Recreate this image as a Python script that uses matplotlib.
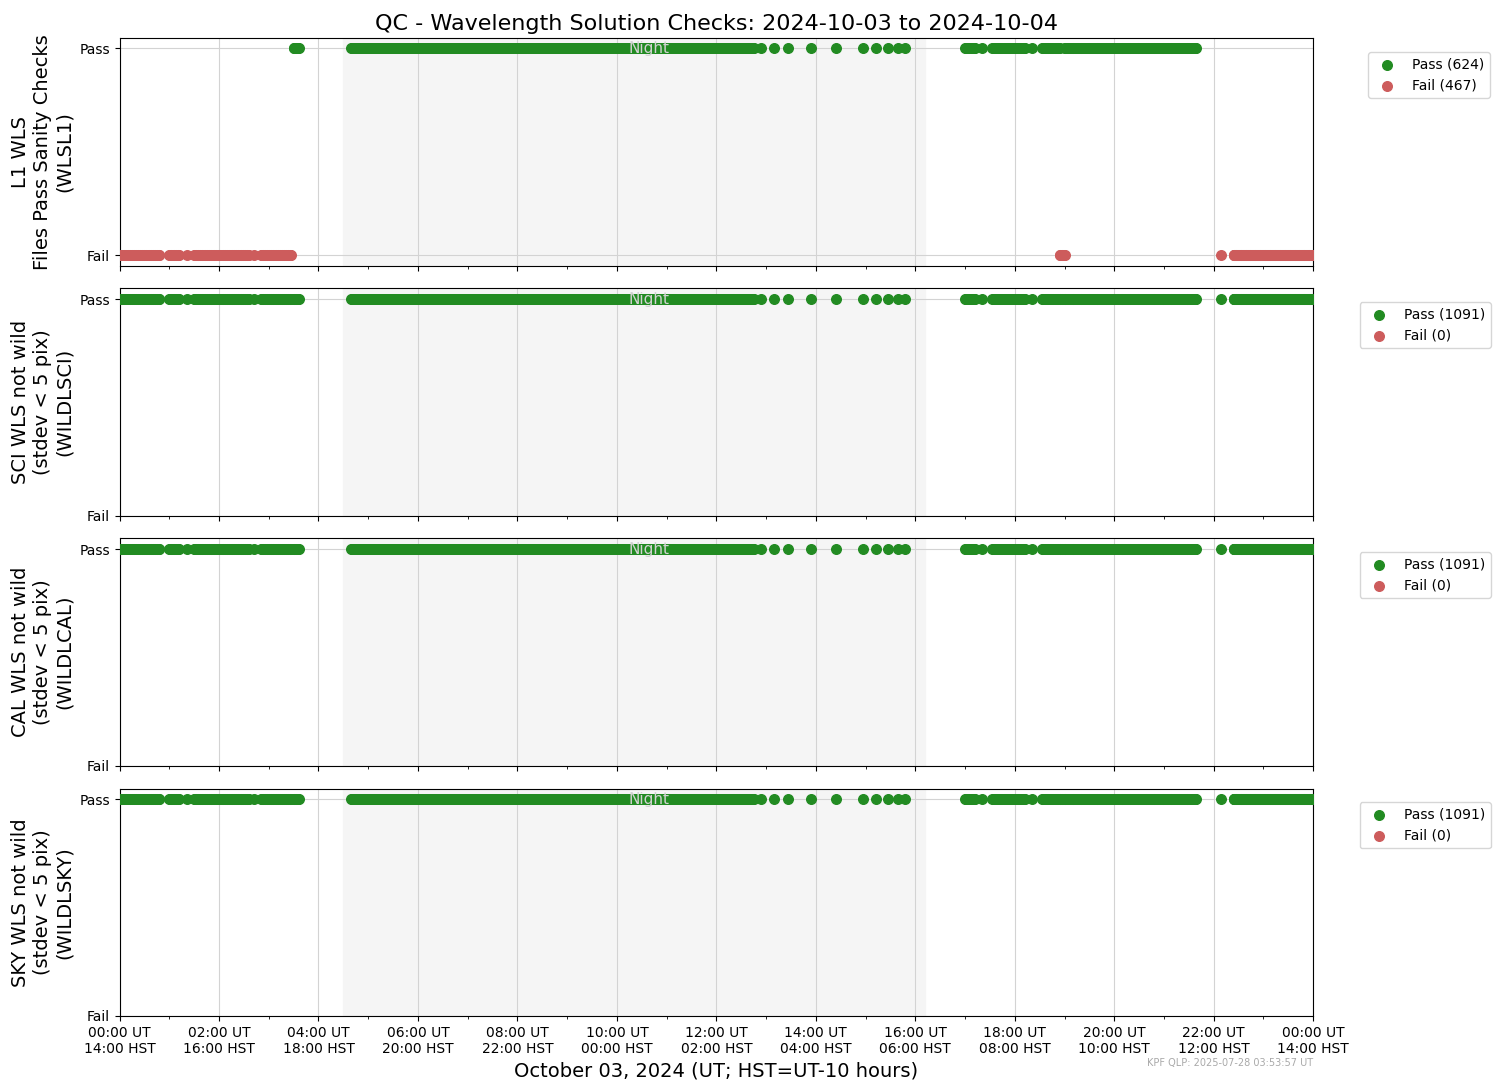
import matplotlib
matplotlib.use("Agg")
import matplotlib.pyplot as plt
import numpy as np

fail_runs = [(0.0, 0.8, 60), (1.0, 1.2, 15), (1.35, 1.35, 1), (1.5, 2.6, 80),
             (2.7, 2.7, 1), (2.85, 3.45, 45), (18.9, 19.0, 8), (22.15, 22.15, 1),
             (22.4, 24.0, 256)]
pass_runs = [(3.5, 3.6, 8), (4.65, 12.75, 400), (12.9, 12.9, 1), (13.15, 13.15, 1),
             (13.45, 13.45, 1), (13.9, 13.9, 1), (14.4, 14.4, 1), (14.95, 14.95, 1),
             (15.2, 15.2, 1), (15.45, 15.45, 1), (15.65, 15.65, 1), (15.8, 15.8, 1),
             (17.0, 17.2, 10), (17.35, 17.35, 1), (17.55, 18.2, 30), (18.35, 18.35, 1),
             (18.55, 18.9, 15), (19.0, 21.65, 149)]
night_start, night_end = 4.5, 16.2

ylabels = ["L1 WLS\nFiles Pass Sanity Checks\n(WLSL1)",
           "SCI WLS not wild\n(stdev < 5 pix)\n(WILDLSCI)",
           "CAL WLS not wild\n(stdev < 5 pix)\n(WILDLCAL)",
           "SKY WLS not wild\n(stdev < 5 pix)\n(WILDLSKY)"]
tick_hours = list(range(0, 25, 2))
tick_labels = ["%02d:00 UT\n%02d:00 HST" % (h % 24, (h - 10) % 24) for h in tick_hours]


def expand(runs):
    return np.concatenate([np.linspace(a, b, n) for a, b, n in runs])


t_fail = expand(fail_runs)
t_pass = expand(pass_runs)
t_all = np.sort(np.concatenate([t_fail, t_pass]))

fig, axes = plt.subplots(4, 1, figsize=(14.94, 10.9), dpi=100, sharex=True)
fig.subplots_adjust(left=0.08, right=0.879, top=0.965, bottom=0.068, hspace=0.1)

for i, ax in enumerate(axes):
    if i == 0:
        p, f = t_pass, t_fail
    else:
        p, f = t_all, np.array([])
    ax.axvspan(night_start, night_end, color="#f5f5f5", zorder=0)
    ax.text((night_start + night_end) / 2 + 0.3, 1, "Night", color="lightgray",
            ha="center", va="center", fontsize=11, zorder=5)
    ax.scatter(p, np.ones_like(p), s=48, color="forestgreen", label="Pass (%d)" % len(p), zorder=3)
    ax.scatter(f, np.zeros_like(f), s=48, color="indianred", label="Fail (%d)" % len(f), zorder=3)
    ax.set_ylim(-0.05 if i == 0 else 0, 1.05)
    ax.set_yticks([0, 1])
    ax.set_yticklabels(["Fail", "Pass"])
    ax.set_xlim(0, 24)
    ax.set_xticks(tick_hours)
    ax.set_xticks(range(25), minor=True)
    ax.grid(True, which="major", color="lightgray", zorder=0)
    ax.set_axisbelow(True)
    ax.set_ylabel(ylabels[i], fontsize=14)
    ax.legend(loc="upper left", bbox_to_anchor=(1.04 if i == 0 else 1.033, 0.97), fontsize=10)

axes[-1].set_xticklabels(tick_labels)
axes[-1].set_xlabel("October 03, 2024 (UT; HST=UT-10 hours)", fontsize=14)
axes[0].set_title("QC - Wavelength Solution Checks: 2024-10-03 to 2024-10-04", fontsize=16)
fig.text(0.879, 0.022, "KPF QLP: 2025-07-28 03:53:57 UT", ha="right", fontsize=7, color="darkgray")

fig.savefig("out.png")
